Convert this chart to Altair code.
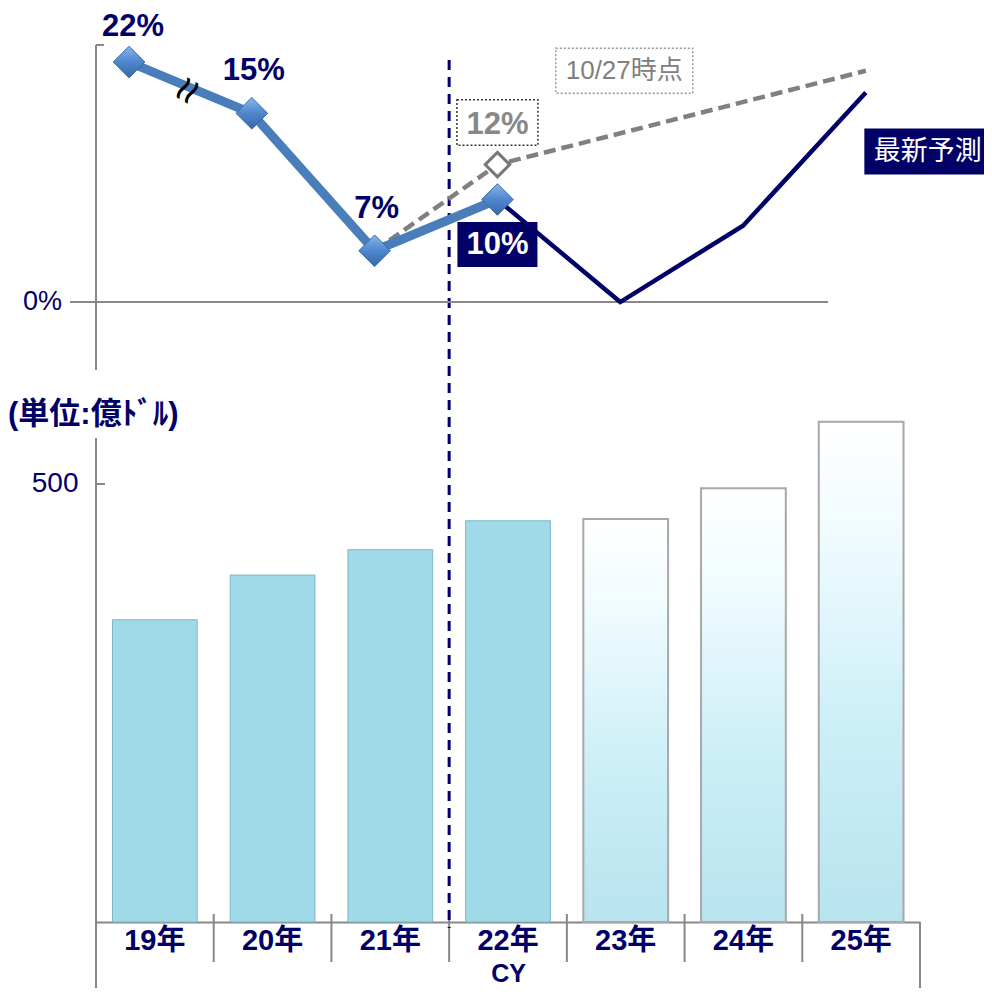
import altair as alt
import pandas as pd

FONT = "Liberation Sans, Arial, 'Noto Sans CJK JP', sans-serif"
NAVY = "#000066"
GRAY = "#888888"

# ---- data ----
categories = ["19年", "20年", "21年", "22年", "23年", "24年", "25年"]
market = [345, 396, 425, 458, 460, 495, 571]          # 億ドル
kind = ["実績", "実績", "実績", "実績", "予測", "予測", "予測"]

actual_years = [19, 20, 21, 22]
actual_growth = [22.0, 17.3, 4.7, 9.4]                # as drawn (axis is not to scale)
actual_labels = ["22%", "15%", "7%", "10%"]

latest_years = [22, 23, 24, 25]
latest_growth = [9.4, 0.0, 7.0, 19.2]

prev_years = [21, 22, 25]
prev_growth = [4.7, 12.6, 21.2]
prev_label = "12%"

unit_label = "(単位:億ﾄﾞﾙ)"
prev_title = "10/27時点"
latest_title = "最新予測"
zero_label = "0%"
x_title = "CY"

# ---- frames ----
bars_df = pd.DataFrame({"cat": categories, "val": market, "kind": kind})
act_df = pd.DataFrame({"yr": actual_years, "pct": actual_growth, "label": actual_labels})
lat_df = pd.DataFrame({"yr": latest_years, "pct": latest_growth})
prev_df = pd.DataFrame({"yr": prev_years, "pct": prev_growth})
prev_pt = pd.DataFrame({"yr": [prev_years[1]], "pct": [prev_growth[1]], "label": [prev_label]})
prev_ann = pd.DataFrame({"yr": [23], "pct": [prev_growth[-1]], "label": [prev_title]})
lat_ann = pd.DataFrame({"yr": [latest_years[-1]], "pct": [latest_growth[-1]], "label": [latest_title]})
brk_df = pd.DataFrame({"yr": [(actual_years[0] + actual_years[1]) / 2],
                       "pct": [(actual_growth[0] + actual_growth[1]) / 2], "label": ["≈"]})
sep_df = pd.DataFrame({"cat": categories[1:]})
one = pd.DataFrame({"a": [0]})

# ---- bar group ----
STEP = 824 / 7
PAD_IN = 0.28
HALF_GAP = STEP * PAD_IN / 2

xaxis = alt.Axis(title=x_title, titleFontSize=25, titleFontWeight="bold", titleColor=NAVY,
                 titleFont=FONT, titlePadding=6, labelFontSize=29, labelFontWeight="bold",
                 labelColor=NAVY, labelFont=FONT, labelAngle=0, labelPadding=4,
                 ticks=False, domainColor=GRAY, domainWidth=2, grid=False)
xscale = alt.Scale(paddingInner=PAD_IN, paddingOuter=PAD_IN / 2)
yscale_b = alt.Scale(domain=[0, 1006.8], nice=False, zero=True)
yaxis_b = alt.Axis(values=[500], labelFontSize=28, labelColor=NAVY, labelFont=FONT,
                   domain=False, ticks=False, grid=False, labelPadding=18, title=None)

xb = alt.X("cat:N", sort=categories, scale=xscale, axis=xaxis)
xb0 = alt.X("cat:N", sort=categories, scale=xscale, axis=xaxis, bandPosition=0)
yb = alt.Y("val:Q", scale=yscale_b, axis=yaxis_b)

solid = alt.Chart(bars_df).transform_filter(alt.datum.kind == "実績").mark_bar(
    fill="#A0D9E8", stroke="#7FB6C6", strokeWidth=1).encode(x=xb, y=yb)

grad_fill = alt.LinearGradient(
    gradient="linear", x1=0, y1=0, x2=0, y2=1,
    stops=[alt.GradientStop(color="#FFFFFF", offset=0),
           alt.GradientStop(color="#F2FCFF", offset=0.2),
           alt.GradientStop(color="#CDEFF7", offset=0.6),
           alt.GradientStop(color="#B8E3EF", offset=1)])
fcst = alt.Chart(bars_df).transform_filter(alt.datum.kind == "予測").mark_bar(
    fill=grad_fill, stroke="#A8A8A8", strokeWidth=2).encode(x=xb, y=yb)

divider = alt.Chart(pd.DataFrame({"cat": [categories[3]]})).mark_rule(
    color=NAVY, strokeWidth=3, strokeDash=[10, 7], xOffset=-HALF_GAP).encode(
    x=xb0, y=alt.value(20), y2=alt.value(888))

separators = alt.Chart(sep_df).mark_rule(color=GRAY, strokeWidth=2, xOffset=-HALF_GAP).encode(
    x=xb0, y=alt.value(874), y2=alt.value(922))

tick500 = alt.Chart(one).mark_rule(color=GRAY, strokeWidth=2).encode(
    x=alt.value(0), x2=alt.value(9), y=alt.YDatum(500, scale=yscale_b, axis=yaxis_b))

deco = []
# vertical axis lines and outer frame of category row
for (xa, ya, yb2) in [(0, 5, 330), (0, 398, 990), (824, 882, 990)]:
    deco.append(alt.Chart(one).mark_rule(color=GRAY, strokeWidth=2).encode(
        x=alt.value(xa), y=alt.value(ya), y2=alt.value(yb2)))
deco.append(alt.Chart(one).mark_rule(color=GRAY, strokeWidth=2).encode(
    x=alt.value(0), x2=alt.value(8), y=alt.value(5)))

unit_txt = alt.Chart(one).mark_text(align="left", baseline="middle", fontSize=31,
                                    fontWeight="bold", color=NAVY, font=FONT).encode(
    x=alt.value(-88), y=alt.value(375), text=alt.value(unit_label))

bar_group = alt.layer(solid, fcst, separators, tick500, *deco, unit_txt, divider)

# ---- line group ----
lscale_x = alt.Scale(domain=[18.731, 25.441], nice=False, zero=False)
lscale_y = alt.Scale(domain=[-56.83, 24.02], nice=False, zero=False)


def LX():
    return alt.X("yr:Q", scale=lscale_x, axis=None)


def LY():
    return alt.Y("pct:Q", scale=lscale_y, axis=None)


zero_rule = alt.Chart(one).mark_rule(color=GRAY, strokeWidth=2).encode(
    x=alt.value(-26), x2=alt.value(732), y=alt.YDatum(0, scale=lscale_y, axis=None))
zero_txt = alt.Chart(one).mark_text(align="right", baseline="middle", fontSize=27,
                                    color=NAVY, font=FONT).encode(
    x=alt.value(-34), y=alt.YDatum(0, scale=lscale_y, axis=None), text=alt.value(zero_label))

prev_line = alt.Chart(prev_df).mark_line(color="#808080", strokeWidth=4.5,
                                         strokeDash=[12, 6]).encode(x=LX(), y=LY())
latest_line = alt.Chart(lat_df).mark_line(color=NAVY, strokeWidth=4.5).encode(x=LX(), y=LY())
actual_line = alt.Chart(act_df).mark_line(color="#4A7EBB", strokeWidth=9).encode(x=LX(), y=LY())

dia_fill = alt.LinearGradient(
    gradient="linear", x1=0, y1=0, x2=0, y2=1,
    stops=[alt.GradientStop(color="#86B6EC", offset=0),
           alt.GradientStop(color="#4F86CC", offset=0.5),
           alt.GradientStop(color="#3768A8", offset=1)])
diamonds = alt.Chart(act_df).mark_point(shape="diamond", filled=True, size=1000, fill=dia_fill,
                                        stroke="#3A6AA5", strokeWidth=1, opacity=1).encode(
    x=LX(), y=LY())
hollow = alt.Chart(prev_pt).mark_point(shape="diamond", filled=True, size=600, fill="white",
                                       stroke="#777777", strokeWidth=3, opacity=1).encode(
    x=LX(), y=LY())

lbl_first = alt.Chart(act_df).transform_filter(alt.datum.yr == 19).mark_text(
    fontSize=31, fontWeight="bold", color=NAVY, font=FONT, baseline="alphabetic",
    dx=4, dy=-26).encode(x=LX(), y=LY(), text="label:N")
lbl_mid = alt.Chart(act_df).transform_filter((alt.datum.yr > 19) & (alt.datum.yr < 22)).mark_text(
    fontSize=31, fontWeight="bold", color=NAVY, font=FONT, baseline="alphabetic",
    dx=2, dy=-33).encode(x=LX(), y=LY(), text="label:N")

BOX = "M-1,-0.5625L1,-0.5625L1,0.5625L-1,0.5625Z"
box10 = alt.Chart(act_df).transform_filter(alt.datum.yr == 22).mark_point(
    shape=BOX, size=6400, filled=True, fill=NAVY, opacity=1, yOffset=45).encode(x=LX(), y=LY())
lbl10 = alt.Chart(act_df).transform_filter(alt.datum.yr == 22).mark_text(
    fontSize=31, fontWeight="bold", color="white", font=FONT, baseline="middle", dy=46).encode(
    x=LX(), y=LY(), text="label:N")

box12 = alt.Chart(prev_pt).mark_point(
    shape=BOX, size=6561, filled=True, fill="white", stroke="#333333", strokeWidth=1.5,
    strokeDash=[2, 2], opacity=1, yOffset=-42).encode(x=LX(), y=LY())
lbl12 = alt.Chart(prev_pt).mark_text(
    fontSize=31, fontWeight="bold", color="#888888", font=FONT, baseline="middle", dy=-40).encode(
    x=LX(), y=LY(), text="label:N")

BOXW = "M-1,-0.3285L1,-0.3285L1,0.3285L-1,0.3285Z"
box_prev = alt.Chart(prev_ann).mark_point(
    shape=BOXW, size=18769, filled=True, fill="white", stroke="#999999", strokeWidth=1.5,
    strokeDash=[2, 2], opacity=1, xOffset=4).encode(x=LX(), y=LY())
lbl_prev = alt.Chart(prev_ann).mark_text(
    fontSize=26, color="#808080", font=FONT, baseline="middle", dx=4).encode(
    x=LX(), y=LY(), text="label:N")

BOXL = "M-1,-0.3622L1,-0.3622L1,0.3622L-1,0.3622Z"
box_lat = alt.Chart(lat_ann).mark_point(
    shape=BOXL, size=16129, filled=True, fill=NAVY, opacity=1, xOffset=62, yOffset=59).encode(
    x=LX(), y=LY())
lbl_lat = alt.Chart(lat_ann).mark_text(
    fontSize=27, color="white", font=FONT, baseline="middle", dx=62, dy=59).encode(
    x=LX(), y=LY(), text="label:N")

brk = alt.Chart(brk_df).mark_text(fontSize=46, color="black", angle=300,
                                  baseline="middle", dx=-4).encode(x=LX(), y=LY(), text="label:N")

line_group = alt.layer(zero_rule, zero_txt, prev_line, latest_line, actual_line, brk,
                       diamonds, hollow, lbl_first, lbl_mid, box10, lbl10, box12, lbl12,
                       box_prev, lbl_prev, box_lat, lbl_lat)

chart = alt.layer(bar_group, line_group).resolve_scale(
    x="independent", y="independent"
).properties(
    width=824, height=882,
    autosize=alt.AutoSizeParams(type="none"),
    padding={"left": 88, "top": 32, "right": 64, "bottom": 66},
    background="white",
).configure_view(stroke=None)

chart.save("out.html", embed_options={"renderer": "svg", "actions": False})
